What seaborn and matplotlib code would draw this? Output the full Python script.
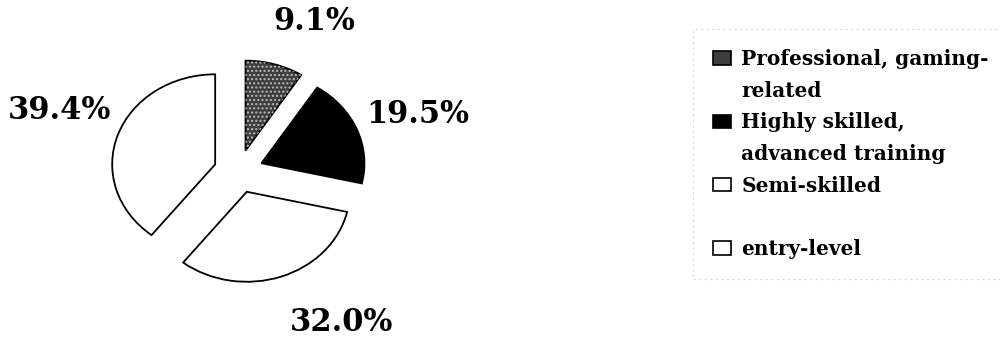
import matplotlib
matplotlib.use("Agg")
import matplotlib.pyplot as plt
import seaborn as sns
from matplotlib.patches import Patch, Wedge

# Workforce split by skill level
categories = ["Professional, gaming-related",
              "Highly skilled, advanced training",
              "Semi-skilled",
              "entry-level"]
shares = [9.1, 19.5, 32.0, 39.4]
legend_lines = [["Professional, gaming-", "related"],
                ["Highly skilled,", "advanced training"],
                ["Semi-skilled", ""],
                ["entry-level"]]
face_colors = ["#3d3d3d", "#000000", "#ffffff", "#ffffff"]
# percentage label anchors (pie radius = 1)
label_pos = [(0.74, 1.66), (1.74, 0.63), (1.0, -1.68), (-1.74, 0.68)]

sns.set_theme(style="white")
plt.rcParams["font.family"] = ["DejaVu Serif"]
plt.rcParams["text.color"] = "black"
plt.rcParams["legend.labelcolor"] = "black"
plt.rcParams["hatch.linewidth"] = 1.0

fig = plt.figure(figsize=(10, 3.39), dpi=100)
ax = fig.add_axes([0, 0, 1, 1])

wedges, _ = ax.pie(shares, startangle=90, counterclock=False,
                   colors=face_colors, explode=[0.24] * len(shares),
                   radius=1,
                   wedgeprops=dict(edgecolor="black", linewidth=1.3))

# speckled texture on the first slice
w = wedges[0]
ax.add_patch(Wedge(w.center, w.r, w.theta1, w.theta2, facecolor="none",
                   edgecolor="#bbbbbb", hatch="....", linewidth=0, zorder=3))

for (x, y), v in zip(label_pos, shares):
    ax.text(x, y, f"{v:.1f}%", ha="center", va="center",
            fontsize=22, fontweight="bold", color="black")

ax.set_aspect("auto")
ax.set_xlim(-2.316, 7.393)
ax.set_ylim(-1.862, 1.904)
ax.axis("off")

handles, labels = [], []
for color, lines in zip(face_colors, legend_lines):
    for j, line in enumerate(lines):
        if j == 0:
            handles.append(Patch(facecolor=color, edgecolor="black", linewidth=1.2))
        else:
            handles.append(Patch(facecolor="none", edgecolor="none"))
        labels.append(line)

leg = fig.legend(handles, labels, loc="upper left", bbox_to_anchor=(0.693, 0.915),
                 borderaxespad=0, frameon=True, fancybox=False,
                 prop=dict(family="DejaVu Serif", weight="bold", size=14.5),
                 handlelength=0.9, handleheight=0.65, handletextpad=0.5,
                 labelspacing=0.58, borderpad=1.0, edgecolor="#d0d0d0",
                 labelcolor="black")
leg.get_frame().set_linestyle((0, (2, 3)))
leg.get_frame().set_linewidth(0.8)

fig.savefig("out.png", dpi=100, facecolor="white")
